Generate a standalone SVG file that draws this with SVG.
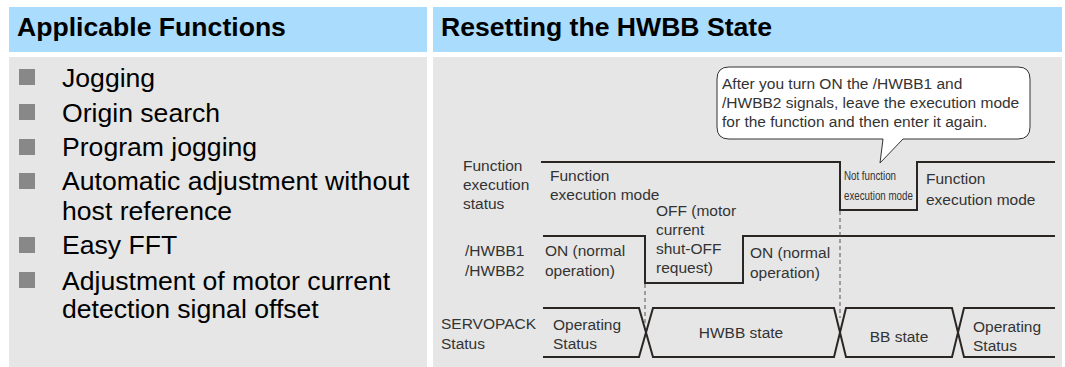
<svg xmlns="http://www.w3.org/2000/svg" width="1065" height="367" viewBox="0 0 1065 367">
<style>
.hdr{fill:#a9dcfd}
.body{fill:#e6e6e6}
.title{font-family:"Liberation Sans",Arial,sans-serif;font-weight:bold;font-size:26.6px;fill:#000}
.item{font-family:"Liberation Sans",Arial,sans-serif;font-size:26.6px;fill:#000}
.bul{fill:#888}
.t{font-family:"Liberation Sans",Arial,sans-serif;font-size:15.5px;fill:#333}
.sm{font-family:"Liberation Sans",Arial,sans-serif;font-size:13px;fill:#333}
.sig{fill:none;stroke:#2a2624;stroke-width:2;stroke-linejoin:miter}
.dash{fill:none;stroke:#555;stroke-width:1;stroke-dasharray:4,3}
</style>
<rect width="1065" height="367" fill="#fff"/>
<g id="left-panel">
<rect class="hdr" x="9" y="7" width="418" height="45"/>
<text class="title" x="17" y="36">Applicable Functions</text>
<rect class="body" x="9" y="57" width="418" height="310"/>
</g>
<g id="function-list">
<rect class="bul" x="19" y="69" width="16" height="16"/>
<text class="item" x="62" y="87">Jogging</text>
<rect class="bul" x="19" y="104" width="16" height="16"/>
<text class="item" x="62" y="122">Origin search</text>
<rect class="bul" x="19" y="139" width="16" height="16"/>
<text class="item" x="62" y="156">Program jogging</text>
<rect class="bul" x="19" y="173" width="16" height="16"/>
<text class="item" x="62" y="190">Automatic adjustment without</text>
<text class="item" x="62" y="220">host reference</text>
<rect class="bul" x="19" y="237" width="16" height="16"/>
<text class="item" x="62" y="254">Easy FFT</text>
<rect class="bul" x="19" y="272" width="16" height="16"/>
<text class="item" x="62" y="290">Adjustment of motor current</text>
<text class="item" x="62" y="318">detection signal offset</text>
</g>
<g id="right-panel">
<rect class="hdr" x="433" y="7" width="629" height="45"/>
<text class="title" x="441" y="36">Resetting the HWBB State</text>
<rect class="body" x="433" y="57" width="629" height="310"/>
</g>
<g id="callout">
<path d="M729,67 H1018 Q1030,67 1030,79 V127 Q1030,139 1018,139 H903 L880,163 L883,139 H729 Q717,139 717,127 V79 Q717,67 729,67 Z" fill="#fff" stroke="#333" stroke-width="1"/>
<text class="t" x="722" y="89">After you turn ON the /HWBB1 and</text>
<text class="t" x="722" y="108">/HWBB2 signals, leave the execution mode</text>
<text class="t" x="722" y="127">for the function and then enter it again.</text>
</g>
<g id="row-function-status">
<text class="t" x="463" y="171">Function</text>
<text class="t" x="463" y="190">execution</text>
<text class="t" x="463" y="209">status</text>
<path class="sig" d="M541,162 H840 V210 H917 V162 H1055"/>
<text class="t" x="550" y="181">Function</text>
<text class="t" x="550" y="200">execution mode</text>
<g transform="translate(844,0) scale(0.75,1)">
<text class="sm" x="0" y="180">Not function</text>
<text class="sm" x="0" y="200">execution mode</text>
</g>
<text class="t" x="926" y="184">Function</text>
<text class="t" x="926" y="205">execution mode</text>
</g>
<g id="row-hwbb">
<text class="t" x="465" y="256">/HWBB1</text>
<text class="t" x="465" y="276">/HWBB2</text>
<path class="sig" d="M543,236 H645 V283 H743 V236 H1055"/>
<text class="t" x="545" y="256">ON (normal</text>
<text class="t" x="545" y="276">operation)</text>
<text class="t" x="656" y="216">OFF (motor</text>
<text class="t" x="656" y="235">current</text>
<text class="t" x="656" y="254">shut-OFF</text>
<text class="t" x="656" y="273">request)</text>
<text class="t" x="750" y="258">ON (normal</text>
<text class="t" x="750" y="278">operation)</text>
</g>
<g id="row-servopack">
<text class="t" x="441" y="329">SERVOPACK</text>
<text class="t" x="441" y="349">Status</text>
<path class="sig" d="M543,308 H639 L653,357 H834 L846,308 H952 L964,357 H1055"/>
<path class="sig" d="M543,357 H639 L653,308 H834 L846,357 H952 L964,308 H1055"/>
<text class="t" x="553" y="330">Operating</text>
<text class="t" x="553" y="349">Status</text>
<text class="t" x="741" y="338" text-anchor="middle">HWBB state</text>
<text class="t" x="899" y="342" text-anchor="middle">BB state</text>
<text class="t" x="973" y="332">Operating</text>
<text class="t" x="973" y="351">Status</text>
</g>
<g id="connectors">
<path class="dash" d="M645,284 V326"/>
<path class="dash" d="M840,211 V318"/>
</g>
</svg>
